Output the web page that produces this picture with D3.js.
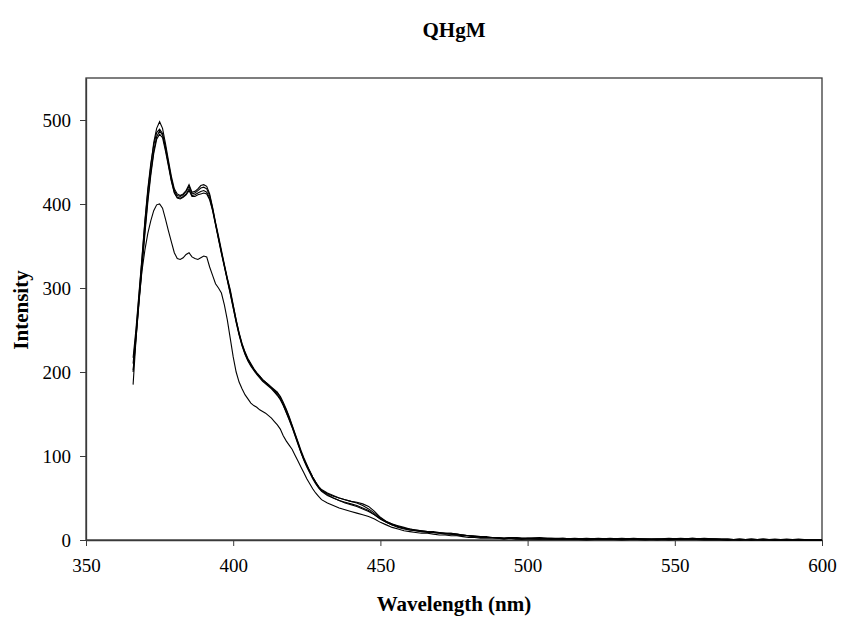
<!DOCTYPE html>
<html><head><meta charset="utf-8">
<script src="https://cdn.jsdelivr.net/npm/d3@7"></script>
<style>body{margin:0;background:#fff}svg{display:block}</style>
</head><body>
<svg id="c" width="843" height="619"></svg>
<script>
const wavelengths = [
 366,367,368,369,370,371,372,373,374,375,376,377,378,379,380,381,382,383,384,385,
 386,387,388,389,390,391,392,393,394,395,396,397,398,399,400,401,402,403,404,405,
 406,407,408,409,410,411,412,413,414,415,416,417,418,419,420,421,422,423,424,425,
 426,427,428,429,430,
 432,434,436,438,440,442,444,446,448,450,452,454,456,458,460,462,464,466,468,470,
 472,474,476,478,480,482,484,486,488,490,492,494,496,498,500,
 504,508,512,516,520,524,528,532,536,540,544,548,552,556,560,564,568,572,576,580,584,588,592,596,600];

const seriesA = [
 210,248,291,334,378,415,445,473,490,498,490,472,452,433,418,412,410,412,416,423,
 414,415,418,422,423,421,412,396,378,362,345,328,312,298,280,262,247,234,224,216,
 210,204,199,195,191,188,185,181,177,173,168,162,155,146,136,126,116,105,96,89,
 82,75,69,64,60,
 56,53,50,48,46,44,41,37,32,26,22,19,17,15,13,12,11,10,9,9,
 8,8,7,6,5,4,4,3,3,3,2,3,2,2,2,
 2,1,2,1,1,2,1,1,1,1,1,2,1,1,1,1,0,1,0,1,0,0,1,0,0];

const seriesB = [
 217,252,294,336,380,418,448,470,485,489,484,468,449,430,416,410,409,411,415,421,
 412,413,416,419,420,418,410,395,377,360,343,327,311,296,279,262,246,233,223,215,
 209,203,198,194,190,187,184,181,178,175,171,164,156,147,137,127,117,107,98,90,
 82,75,69,63,59,
 55,52,50,48,46,45,43,40,34,27,22,19,16,14,13,12,11,10,10,9,
 8,8,7,6,5,5,4,4,3,3,2,3,3,2,2,
 3,2,2,1,2,1,1,2,1,1,1,1,2,1,2,1,1,0,1,0,0,1,0,0,0];

const seriesC = [
 202,243,285,327,368,406,437,463,480,487,482,466,447,428,414,408,407,409,412,418,
 410,411,413,415,416,414,407,393,376,359,342,326,310,294,277,260,245,232,222,214,
 208,203,199,195,191,188,185,182,179,176,170,161,152,143,134,124,114,104,95,87,
 80,73,67,62,58,
 53,50,47,45,43,41,38,35,30,25,21,18,15,13,12,11,10,9,9,8,
 8,7,6,6,5,4,4,3,3,2,2,2,3,2,2,
 2,1,1,2,1,1,1,1,2,1,1,1,1,2,1,1,0,1,0,0,1,0,0,0,0];

const seriesD = [
 200,240,282,323,364,402,434,460,477,483,479,463,445,427,413,407,406,408,411,416,
 409,409,411,412,413,412,405,392,375,358,341,325,309,293,276,259,244,231,221,213,
 207,202,197,193,189,186,183,180,176,172,167,160,152,144,135,125,115,105,96,88,
 81,74,68,63,59,
 54,50,47,44,42,40,37,34,30,25,21,18,16,14,12,11,10,10,9,8,
 7,7,6,5,5,4,3,3,3,2,2,2,2,1,2,
 1,2,1,1,1,1,2,1,1,1,0,1,1,2,1,1,1,0,0,1,0,0,0,0,0];

const seriesE = [
 185,240,285,320,345,365,380,392,399,400,395,382,368,355,342,335,334,336,340,342,
 337,335,334,336,338,337,325,315,305,300,294,280,262,240,218,200,188,180,173,168,
 163,160,158,155,153,151,148,145,141,137,132,124,118,113,108,101,94,87,80,73,
 67,61,56,52,48,
 44,41,38,36,34,32,30,28,25,21,18,15,13,11,10,9,8,8,7,6,
 6,5,5,4,3,3,2,2,2,2,1,2,1,1,1,
 1,1,1,1,0,1,1,0,1,0,1,0,1,1,0,0,0,0,1,0,0,0,0,0,0];

const allSeries = [seriesA, seriesB, seriesC, seriesD, seriesE];
const xTicks = [350,400,450,500,550,600];
const yTicks = [0,100,200,300,400,500];

const svg = d3.select("#c");
const L = 86, R = 822, T = 78, B = 540;
const x = d3.scaleLinear().domain([350,600]).range([L,R]);
const y = d3.scaleLinear().domain([0,550]).range([B,T]);

svg.append("rect").attr("x",L).attr("y",T).attr("width",R-L).attr("height",B-T)
  .attr("fill","none").attr("stroke","#3a3a3a").attr("stroke-width",1.3);

const font = "'Liberation Serif','Times New Roman',serif";

const gx = svg.append("g").attr("transform",`translate(0,${B})`)
  .call(d3.axisBottom(x).tickValues(xTicks).tickSize(6).tickSizeOuter(0).tickPadding(13));
const gy = svg.append("g").attr("transform",`translate(${L},0)`)
  .call(d3.axisLeft(y).tickValues(yTicks).tickSize(6).tickSizeOuter(0).tickPadding(9));
[gx,gy].forEach(g=>{
  g.select(".domain").attr("stroke","#3a3a3a").attr("stroke-width",1.3);
  g.selectAll(".tick line").attr("stroke","#3a3a3a");
  g.selectAll("text").attr("font-family",font).attr("font-size",19).attr("fill","#000");
});

const line = d3.line().x((d,i)=>x(wavelengths[i])).y(d=>y(d));
svg.append("g").selectAll("path").data(allSeries).join("path")
  .attr("d",line).attr("fill","none").attr("stroke","#000").attr("stroke-width",1.1);

svg.append("text").attr("x",(L+R)/2).attr("y",37).attr("text-anchor","middle")
  .attr("font-family",font).attr("font-weight","bold").attr("font-size",21).text("QHgM");
svg.append("text").attr("x",(L+R)/2).attr("y",611).attr("text-anchor","middle")
  .attr("font-family",font).attr("font-weight","bold").attr("font-size",21).text("Wavelength (nm)");
svg.append("text").attr("transform",`translate(28,310) rotate(-90)`).attr("text-anchor","middle")
  .attr("font-family",font).attr("font-weight","bold").attr("font-size",21).text("Intensity");
</script>
</body></html>
